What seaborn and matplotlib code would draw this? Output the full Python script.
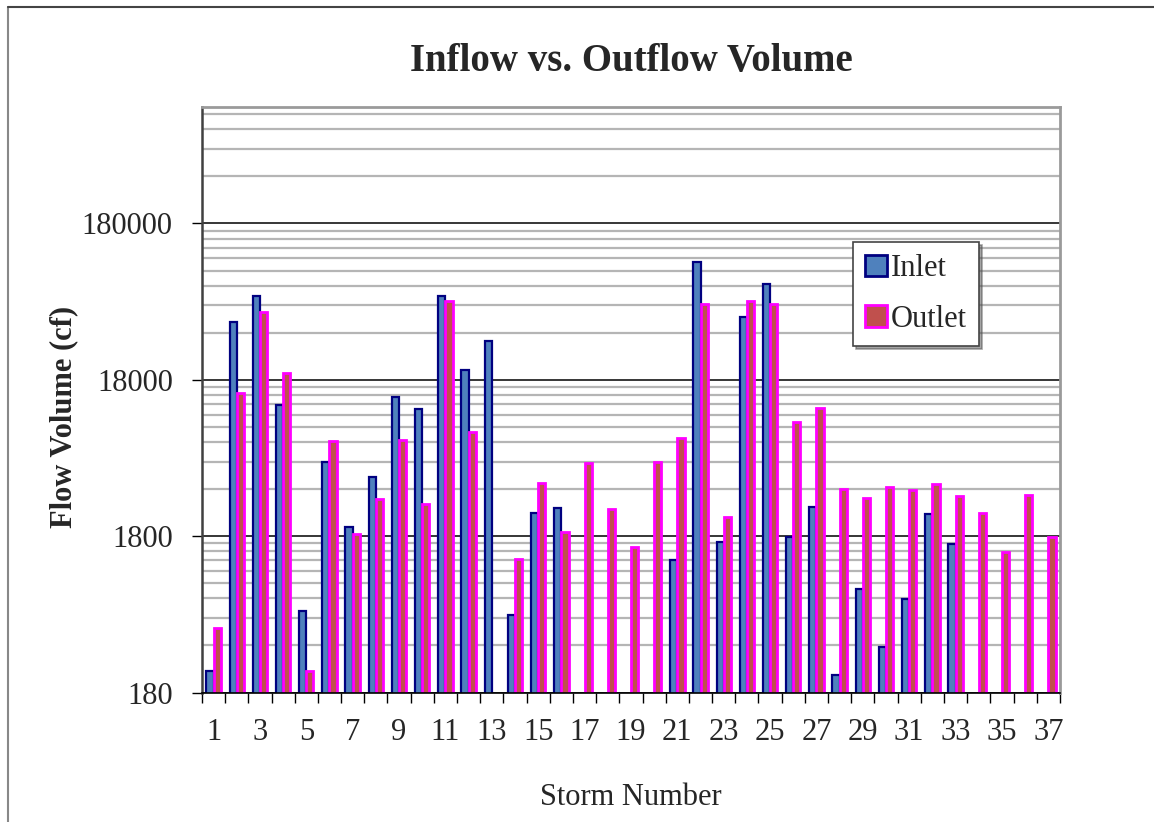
import matplotlib

matplotlib.use("Agg")
import matplotlib.pyplot as plt
import numpy as np
import pandas as pd
import seaborn as sns
from matplotlib.lines import Line2D
from matplotlib.patches import Patch
from matplotlib.ticker import FixedLocator, FuncFormatter, NullFormatter

# Datos (escala logarítmica, NaN = sin barra)
storms = [str(i) for i in range(1, 38)]
inlet = [
    248, 42200, 61500, 12350, 600, 5330, 2070, 4330, 14000, 11700,
    62000, 20800, 32000, 564, 2525, 2720, np.nan, np.nan, np.nan, np.nan,
    1263, 101600, 1647, 45200, 73500, 1782, 2760, 234, 831, 350,
    711, 2500, 1614, np.nan, np.nan, np.nan, np.nan,
]
outlet = [
    468, 14800, 48900, 19900, 248, 7300, 1854, 3130, 7400, 2910,
    57800, 8340, np.nan, 1288, 3930, 1908, 5250, 2690, 1544, 5380,
    7590, 55300, 2400, 57500, 55000, 9670, 11880, 3600, 3150, 3700,
    3560, 3875, 3230, 2540, 1422, 3310, 1782,
]
series_names = ["Inlet", "Outlet"]
fill_colors = ["#4F81BD", "#C0504D"]
edge_colors = ["#000080", "#FF00FF"]
y_major = [180, 1800, 18000, 180000]

df = pd.DataFrame({"storm": storms * 2,
                   "series": ["Inlet"] * 37 + ["Outlet"] * 37,
                   "volume": inlet + outlet})

sns.set_style("white")
plt.rcParams["font.family"] = ["Liberation Serif", "DejaVu Serif"]

fig = plt.figure(figsize=(11.54, 8.22), dpi=100)
ax = fig.add_axes([0.175, 0.1575, 0.7435, 0.7123])

sns.barplot(data=df, x="storm", y="volume", hue="series", order=storms,
            hue_order=series_names, palette=fill_colors, width=0.62,
            saturation=1, errorbar=None, legend=False, ax=ax)

for cont, ec, lw in zip(ax.containers, edge_colors, [1.6, 2.0]):
    for bar in cont:
        bar.set_edgecolor(ec)
        bar.set_linewidth(lw)

ax.set_yscale("log")
ax.set_ylim(180, 1.0e6)
ax.set_xlim(-0.5, 36.5)

minors = [k * 180 * 10 ** n for n in range(4) for k in range(2, 10) if k * 180 * 10 ** n < 1.0e6]
ax.yaxis.set_major_locator(FixedLocator(y_major))
ax.yaxis.set_minor_locator(FixedLocator(minors))
ax.yaxis.set_major_formatter(FuncFormatter(lambda v, p: f"{v:.0f}"))
ax.yaxis.set_minor_formatter(NullFormatter())
ax.set_axisbelow(True)
ax.grid(axis="y", which="major", color="black", lw=1.1)
ax.grid(axis="y", which="minor", color="#b5b5b5", lw=1.6)

ax.set_xticks(range(0, 37, 2), storms[::2])
ax.set_xticks(np.arange(-0.5, 37, 1), minor=True)
ax.tick_params(axis="x", which="major", length=0, pad=18, labelsize=22)
ax.tick_params(axis="x", which="minor", length=7, width=1, direction="out", color="black", bottom=True)
ax.tick_params(axis="y", which="major", length=7, width=1, direction="out", color="black", pad=14, labelsize=22, left=True)
ax.tick_params(axis="y", which="minor", length=0)

ax.spines["left"].set_color("#404040")
ax.spines["left"].set_linewidth(1.8)
ax.spines["bottom"].set_color("black")
ax.spines["bottom"].set_linewidth(1.2)
for s in ["top", "right"]:
    ax.spines[s].set_color("#9a9a9a")
    ax.spines[s].set_linewidth(2)

ax.set_xlabel("")
ax.set_ylabel("")
fig.text(631 / 1154, 1 - 62 / 822, "Inflow vs. Outflow Volume", ha="center", va="center",
         fontsize=28, fontweight="bold")
fig.text(64 / 1154, 1 - 417 / 822, "Flow Volume (cf)", ha="center", va="center",
         rotation=90, fontsize=22, fontweight="bold")
fig.text(631 / 1154, 1 - 797 / 822, "Storm Number", ha="center", va="center", fontsize=22)

handles = [Patch(facecolor=f, edgecolor=e, lw=2) for f, e in zip(fill_colors, edge_colors)]
leg = ax.legend(handles, series_names, loc="upper left",
                bbox_to_anchor=(853 / 1154, 1 - 242 / 822), bbox_transform=fig.transFigure,
                fontsize=22, frameon=True, fancybox=False, shadow=True, framealpha=1,
                edgecolor="#444444", handlelength=0.7, handleheight=0.7,
                handletextpad=0.15, labelspacing=0.7, borderpad=0.4, borderaxespad=0)
leg.get_frame().set_linewidth(1.2)

# borde del área del gráfico
fig.add_artist(Line2D([8 / 1154, 8 / 1154], [0, 1 - 7 / 822], color="#888888", lw=1.5))
fig.add_artist(Line2D([8 / 1154, 1], [1 - 7 / 822, 1 - 7 / 822], color="#444444", lw=1.5))

fig.savefig("out.png", dpi=100, facecolor="white")
